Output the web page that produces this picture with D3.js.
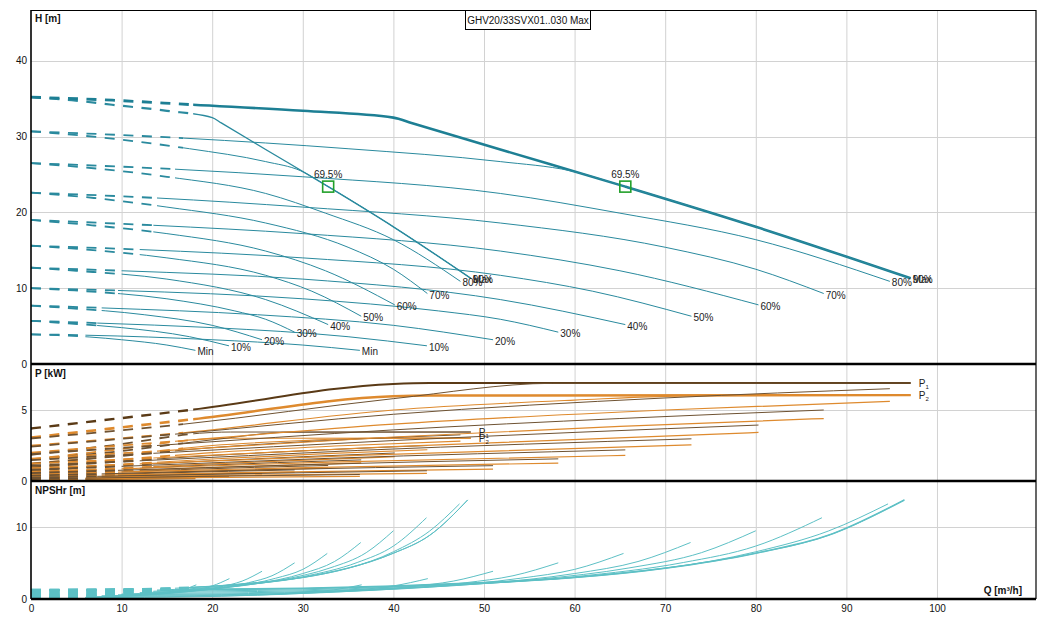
<!DOCTYPE html>
<html>
<head>
<meta charset="utf-8">
<script src="https://cdn.jsdelivr.net/npm/d3@7"></script>
<style>
  body { margin: 0; background: #fff; }
  text { font-family: "Liberation Sans", Arial, sans-serif; }
</style>
</head>
<body>
<div id="chart"></div>
<script>
const W = 1041;
const H = 624;

// speed curves, listed top to bottom
const speeds = ["Max", "90%", "80%", "70%", "60%", "50%", "40%", "30%", "20%", "10%", "Min"];
// flow where the dashed (below minimum flow) part ends [m3/h]
const qMin = [17.9, 16.8, 15.9, 13.9, 13.5, 12, 10, 9.6, 7.8, 7.3, 6];

// head curves of the two-pump set, [Q m3/h, H m]
const headCurves = [
  [[0,35.2],[9,34.8],[17.9,34.2],[30,33.4],[40,32.5],[42,31.8],[51.8,28.3],[65.6,23.4],[80,18.1],[97.1,11.3]],
  [[0,30.7],[16.8,29.8],[35,28.4],[51.8,26.7],[59.5,25.5],[65.6,23.4],[80,18.1],[97.1,11.3]],
  [[0,26.5],[15.9,25.7],[30,24.7],[51.8,22.5],[65,19.9],[80,16.4],[94.8,10.9]],
  [[0,22.6],[13.9,21.9],[30,20.7],[51.8,18.6],[70,15.4],[80,12.5],[87.5,9.3]],
  [[0,19.0],[13.5,18.3],[30,17.2],[51.8,14.9],[65,12.3],[80.3,7.8]],
  [[0,15.6],[12,15.1],[30,14.0],[51.8,11.7],[62,9.6],[72.9,6.3]],
  [[0,12.7],[10,12.3],[30,11.2],[51.8,8.5],[65.6,5.2]],
  [[0,10.0],[9.6,9.7],[30,8.6],[45,7.0],[51.8,5.9],[58.2,4.2]],
  [[0,7.7],[7.8,7.4],[25,6.5],[40,5.1],[51,3.2]],
  [[0,5.7],[7.3,5.4],[20,4.8],[35,3.6],[43.7,2.4]],
  [[0,3.9],[6,3.8],[20,3.2],[30,2.5],[36.3,1.8]]
];

// input power P1 of the two-pump set, [Q, kW]
const p1Curves = [
  [[0,3.7],[17.9,5.03],[40,6.84],[44,6.9],[97.1,6.9]],
  [[0,3.0],[16.8,4.0],[40,5.8],[57.6,6.88],[97.1,6.9]],
  [[0,2.42],[15.9,3.3],[40,4.7],[70,5.85],[94.8,6.5]],
  [[0,1.9],[13.9,2.5],[40,3.6],[65,4.4],[87.5,5.0]],
  [[0,1.47],[13.5,1.95],[40,2.85],[80.3,3.94]],
  [[0,1.09],[12,1.42],[36,2.15],[72.9,2.97]],
  [[0,0.8],[10,1.03],[33,1.6],[65.6,2.19]],
  [[0,0.56],[9.6,0.75],[29,1.13],[58.2,1.56]],
  [[0,0.38],[7.8,0.5],[25,0.78],[51,1.08]],
  [[0,0.24],[7.3,0.33],[22,0.5],[43.7,0.72]],
  [[0,0.14],[6,0.2],[18,0.32],[36.3,0.46]]
];

// shaft power P2 of the two-pump set, [Q, kW]
const p2Curves = [
  [[0,3.06],[17.9,4.35],[40,5.97],[44,6.02],[97.1,6.05]],
  [[0,2.49],[16.8,3.4],[40,5.0],[60,5.7],[74,6.02],[97.1,6.05]],
  [[0,2.0],[15.9,2.8],[40,4.0],[70,5.0],[94.8,5.61]],
  [[0,1.57],[13.9,2.1],[40,3.1],[65,3.85],[87.5,4.4]],
  [[0,1.21],[13.5,1.62],[40,2.42],[80.3,3.42]],
  [[0,0.9],[12,1.2],[36,1.8],[72.9,2.55]],
  [[0,0.66],[10,0.86],[33,1.33],[65.6,1.8]],
  [[0,0.46],[9.6,0.62],[29,0.93],[58.2,1.26]],
  [[0,0.31],[7.8,0.41],[25,0.61],[51,0.83]],
  [[0,0.2],[7.3,0.27],[22,0.4],[43.7,0.54]],
  [[0,0.12],[6,0.16],[18,0.24],[36.3,0.33]]
];

// NPSHr of the two-pump set, [Q, m]
const npshCurves = [
  [[0,1.3],[18,1.35],[30,1.5],[40,1.8],[50,2.3],[60,3.0],[70,4.3],[80,6.4],[88,8.9],[96.4,13.85]],
  [[0,1.22],[18,1.28],[30,1.45],[40,1.78],[50,2.3],[60,3.0],[70,4.3],[80,6.4],[88,8.9],[96.4,13.85]],
  [[0,1.25],[20,1.33],[40,1.77],[60,3.03],[80,6.6],[88,9.5],[94.6,13.3]],
  [[0,1.07],[20,1.15],[40,1.64],[60,3.12],[72,5.1],[80,7.4],[87.3,11.36]],
  [[0,0.9],[20,0.99],[40,1.52],[56,2.76],[66,4.34],[74,6.48],[80,9.54]],
  [[0,0.74],[20,0.83],[36,1.25],[50,2.17],[60,3.56],[67,5.24],[72.8,7.9]],
  [[0,0.6],[16,0.65],[32,1.01],[44,1.66],[54,2.9],[60,4.14],[65.4,6.37]],
  [[0,0.47],[14,0.52],[28,0.78],[40,1.39],[48,2.28],[53.2,3.25],[58.2,5.06]],
  [[0,0.36],[12,0.4],[24,0.6],[35,1.06],[42,1.75],[46.6,2.5],[51,3.88]],
  [[0,0.27],[10,0.29],[20,0.41],[30,0.78],[36,1.28],[40,1.83],[43.8,2.85]],
  [[0,0.19],[8,0.2],[17,0.29],[25,0.54],[30,0.89],[33.4,1.27],[36.5,1.98]]
];

// best efficiency point of the two-pump set
const bep = { q: 65.6, h: 23.4, label: "69.5%" };

const title = "GHV20/33SVX01..030 Max";
const qTicks = [0, 10, 20, 30, 40, 50, 60, 70, 80, 90, 100];
const hTicks = [0, 10, 20, 30, 40];
const pTicks = [0, 5];
const nTicks = [0, 10];

// one pump = the parallel curve at half the flow (and half the power)
const oneQ = pts => pts.map(d => [d[0] / 2, d[1]]);
const oneQP = pts => pts.map(d => [d[0] / 2, d[1] / 2]);

const x = d3.scaleLinear().domain([0, 110.93]).range([31, 1036]);
const yH = d3.scaleLinear().domain([0, 46.7]).range([364, 10]);
const yP = d3.scaleLinear().domain([0, 8.17]).range([481, 365]);
const yN = d3.scaleLinear().domain([0, 16.36]).range([599, 482]);

const svg = d3.select("#chart").append("svg")
  .attr("width", W).attr("height", H)
  .attr("viewBox", `0 0 ${W} ${H}`);
const defs = svg.append("defs");

const panels = [
  { y: yH, ticks: hTicks, label: "H [m]" },
  { y: yP, ticks: pTicks, label: "P [kW]" },
  { y: yN, ticks: nTicks, label: "NPSHr [m]" }
];

// grid
panels.forEach(p => {
  const [y0, y1] = p.y.range();
  const g = svg.append("g").attr("stroke", "#d2d2d2").attr("stroke-width", 1);
  g.selectAll("line.v").data(qTicks.slice(1)).join("line")
    .attr("x1", d => x(d) + 0.5).attr("x2", d => x(d) + 0.5)
    .attr("y1", y1).attr("y2", y0);
  g.selectAll("line.h").data(p.ticks.slice(1)).join("line")
    .attr("x1", x(0)).attr("x2", x.range()[1])
    .attr("y1", d => Math.round(p.y(d)) + 0.5).attr("y2", d => Math.round(p.y(d)) + 0.5);
});

let clipId = 0;
function drawCurve(g, pts, y, qmin, color, width, dashWidth) {
  const line = d3.line().x(d => x(d[0])).y(d => y(d[1])).curve(d3.curveMonotoneX);
  const xm = x(qmin);
  const id = "c" + (clipId++);
  defs.append("clipPath").attr("id", id + "d")
    .append("rect").attr("x", 0).attr("y", 0).attr("width", xm).attr("height", H);
  defs.append("clipPath").attr("id", id + "s")
    .append("rect").attr("x", xm).attr("y", 0).attr("width", W - xm).attr("height", H);
  g.append("path").attr("d", line(pts))
    .attr("fill", "none").attr("stroke", color).attr("stroke-width", dashWidth)
    .attr("stroke-dasharray", "10,8.5")
    .attr("clip-path", `url(#${id}d)`);
  g.append("path").attr("d", line(pts))
    .attr("fill", "none").attr("stroke", color).attr("stroke-width", width)
    .attr("clip-path", `url(#${id}s)`);
}

const hColor = "#2a8a9e";
const nColor = "#5dc0c5";
const p1Color = "#6e5232";
const p2Color = "#de8a2e";

// NPSH panel
const gN = svg.append("g");
npshCurves.forEach((c, i) => {
  drawCurve(gN, oneQ(c), yN, qMin[i], nColor, 1, 2);
  drawCurve(gN, c, yN, qMin[i], nColor, i === 0 ? 1.6 : 1, 2);
});

// power panel
const gP = svg.append("g");
p2Curves.forEach((c, i) => {
  drawCurve(gP, oneQP(c), yP, qMin[i], p2Color, 1.2, 1.8);
});
p1Curves.forEach((c, i) => {
  drawCurve(gP, oneQP(c), yP, qMin[i], p1Color, 1, 1.8);
});
p2Curves.forEach((c, i) => {
  drawCurve(gP, c, yP, qMin[i], p2Color, i === 0 ? 2.4 : 1.2, i === 0 ? 2.6 : 1.8);
});
p1Curves.forEach((c, i) => {
  drawCurve(gP, c, yP, qMin[i], i === 0 ? "#5a3a16" : p1Color, i === 0 ? 2 : 1, i === 0 ? 2.4 : 1.8);
});

// P1 / P2 labels at the end of the max curves
function pLabel(pt, y, sub) {
  const t = gP.append("text")
    .attr("x", x(pt[0]) + 8).attr("y", y(pt[1]) + 4)
    .attr("font-size", 10).attr("fill", "#222");
  t.append("tspan").text("P");
  t.append("tspan").attr("font-size", 6).attr("dy", 2).text(sub);
}
[oneQP(p1Curves[0]), p1Curves[0]].forEach(c => pLabel(c[c.length - 1], yP, "1"));
[oneQP(p2Curves[0]), p2Curves[0]].forEach(c => pLabel(c[c.length - 1], yP, "2"));

// head panel
const gH = svg.append("g");
headCurves.forEach((c, i) => {
  drawCurve(gH, oneQ(c), yH, qMin[i], hColor, i === 0 ? 1.4 : 1, i === 0 ? 2.2 : 1.8);
  drawCurve(gH, c, yH, qMin[i], i === 0 ? "#1d7f94" : hColor, i === 0 ? 2.6 : 1, i === 0 ? 2.8 : 1.8);
});

// speed labels at curve ends
[headCurves.map(oneQ), headCurves].forEach(set => {
  gH.selectAll(null).data(set).join("text")
    .attr("x", d => x(d[d.length - 1][0]) + 2)
    .attr("y", d => yH(d[d.length - 1][1]) + 5)
    .attr("font-size", 10).attr("fill", "#222")
    .text((d, i) => speeds[i]);
});

// best efficiency points
const beps = [{ q: bep.q / 2, h: bep.h }, { q: bep.q, h: bep.h }];
gH.selectAll("rect.bep").data(beps).join("rect")
  .attr("class", "bep")
  .attr("x", d => x(d.q) - 5.5).attr("y", d => yH(d.h) - 5.5)
  .attr("width", 11).attr("height", 11)
  .attr("fill", "none").attr("stroke", "#22a02a").attr("stroke-width", 1.6);
gH.selectAll("text.bep").data(beps).join("text")
  .attr("class", "bep")
  .attr("x", d => x(d.q)).attr("y", d => yH(d.h) - 9)
  .attr("text-anchor", "middle").attr("font-size", 10).attr("fill", "#222")
  .text(bep.label);

// y axes
panels.forEach(p => {
  const ax = svg.append("g")
    .attr("transform", `translate(${x(0)},0)`)
    .call(d3.axisLeft(p.y).tickValues(p.ticks).tickSize(0).tickPadding(4));
  ax.select(".domain").remove();
  ax.selectAll("text").attr("font-size", 10).attr("fill", "#111")
    .attr("font-family", "Liberation Sans, Arial, sans-serif");
  svg.append("text")
    .attr("x", x(0) + 4).attr("y", p.y.range()[1] + 12)
    .attr("font-size", 10).attr("font-weight", "bold").attr("fill", "#111")
    .text(p.label);
});

// x axis
const axX = svg.append("g")
  .attr("transform", `translate(0,${yN(0)})`)
  .call(d3.axisBottom(x).tickValues(qTicks).tickSize(0).tickPadding(6));
axX.select(".domain").remove();
axX.selectAll("text").attr("font-size", 10).attr("fill", "#111")
  .attr("font-family", "Liberation Sans, Arial, sans-serif");
svg.append("text")
  .attr("x", x.range()[1] - 14).attr("y", yN(0) - 5)
  .attr("text-anchor", "end")
  .attr("font-size", 10).attr("font-weight", "bold").attr("fill", "#111")
  .text("Q [m³/h]");

// frame and panel separators
const xl = x(0), xr = x.range()[1];
svg.append("line").attr("x1", xl).attr("x2", xr).attr("y1", 10.5).attr("y2", 10.5)
  .attr("stroke", "#000").attr("stroke-width", 1.2);
svg.append("line").attr("x1", xr).attr("x2", xr).attr("y1", 10).attr("y2", yN(0))
  .attr("stroke", "#000").attr("stroke-width", 1.2);
svg.append("line").attr("x1", xl).attr("x2", xl).attr("y1", 10).attr("y2", yN(0))
  .attr("stroke", "#000").attr("stroke-width", 1.6);
[yH(0), yP(0), yN(0)].forEach(yy => {
  svg.append("line").attr("x1", xl).attr("x2", xr).attr("y1", yy).attr("y2", yy)
    .attr("stroke", "#000").attr("stroke-width", 2.6);
});

// title box
const tb = svg.append("g");
tb.append("rect").attr("x", 465.5).attr("y", 10.5).attr("width", 125).attr("height", 19)
  .attr("fill", "#fff").attr("stroke", "#000").attr("stroke-width", 1);
tb.append("text").attr("x", 528).attr("y", 23.5).attr("text-anchor", "middle")
  .attr("font-size", 10).attr("fill", "#111").text(title);
</script>
</body>
</html>
